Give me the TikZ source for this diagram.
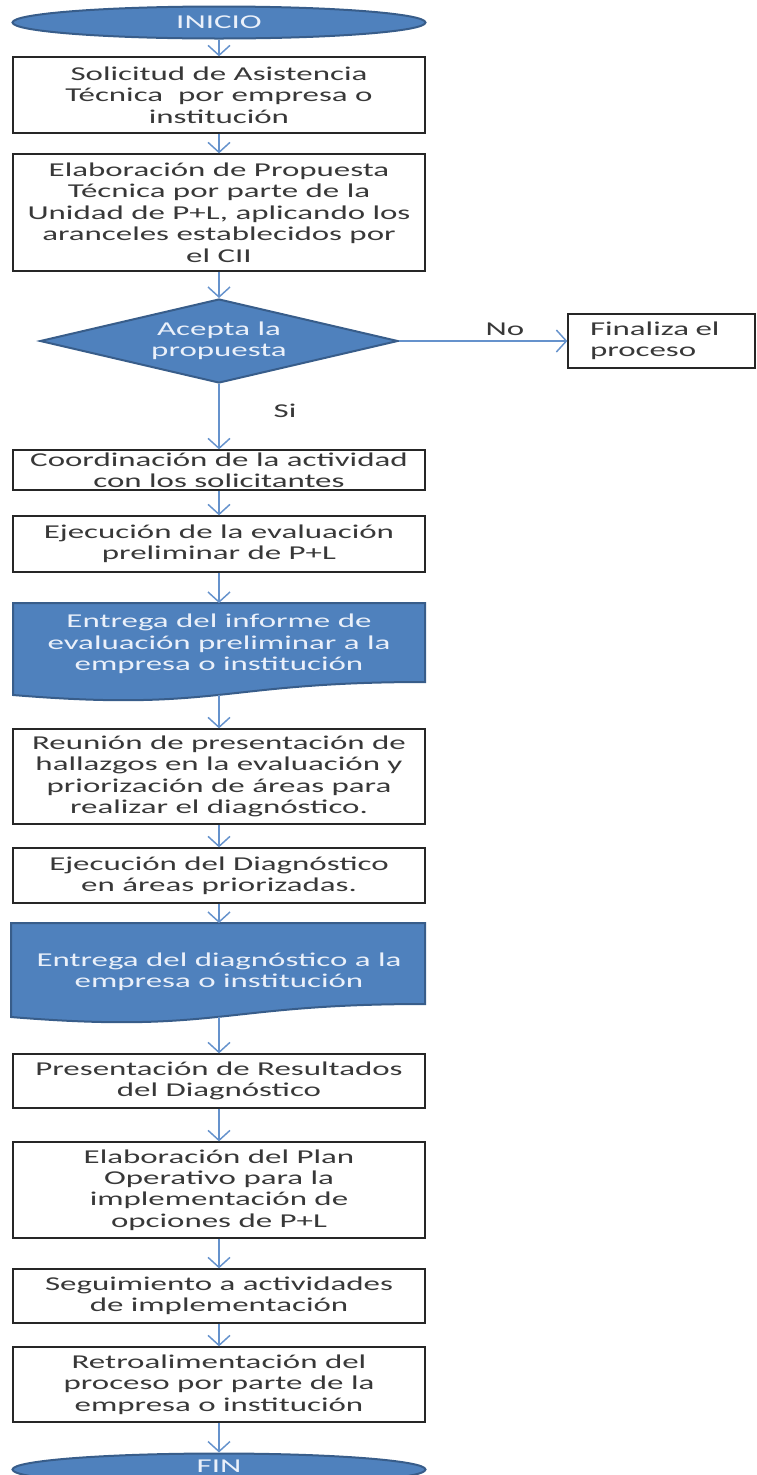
\documentclass[tikz,border=0pt]{standalone}
\usepackage{fontspec}
\setmainfont{Carlito}[FakeStretch=1.68]
\usetikzlibrary{shapes.geometric,arrows.meta}
\newlength{\px}\setlength{\px}{0.75pt}
\definecolor{flowblue}{HTML}{4F81BD}
\definecolor{flowedge}{HTML}{385D8A}
\definecolor{linkblue}{HTML}{6592CC}
\definecolor{boxtext}{HTML}{383838}
\definecolor{lighttext}{HTML}{EAF0FA}

\begin{document}
\begin{tikzpicture}[x=0.75pt,y=-0.75pt,
  every node/.style={font=\fontsize{14.7}{16.1}\selectfont},
  stepbox/.style={draw=black!85, line width=1pt, fill=white, text=boxtext,
    align=center, inner sep=0pt, minimum width=412\px},
  terminal/.style={ellipse, draw=flowedge, line width=1.5pt, fill=flowblue,
    text=lighttext, minimum width=413\px, minimum height=32\px, inner sep=0pt},
  decision/.style={diamond, draw=flowedge, line width=1.5pt, fill=flowblue,
    text=lighttext, align=center, shape aspect=4.26, minimum width=358\px,
    minimum height=84\px, inner sep=0pt},
  document/.style={draw=flowedge, line width=1.5pt, fill=flowblue},
  doctext/.style={text=lighttext, align=center, inner sep=0pt},
  link/.style={draw=linkblue, line width=1.1pt,
    -{Straight Barb[length=7.5pt, width=16.5pt, line width=1.1pt]}},
  tag/.style={text=boxtext, inner sep=0pt}
]
\useasboundingbox (0,0) rectangle (757,1475);

% main column
\node[terminal] (start) at (219,22.5) {INICIO};
\node[stepbox, minimum height=76\px] (s1) at (219,95)
  {Solicitud de Asistencia\\Técnica\ \ por empresa o\\institución};
\node[stepbox, minimum height=117\px] (s2) at (219,212.5)
  {Elaboración de Propuesta\\Técnica por parte de la\\Unidad de P+L, aplicando los\\aranceles establecidos por\\el CII};
\node[decision] (q) at (219,341) {Acepta la\\propuesta};
\node[stepbox, minimum width=0pt, minimum height=54\px, align=left,
  text width=143\px, inner xsep=22\px] (end) at (661.5,341) {Finaliza el\\proceso};
\node[stepbox, minimum height=40\px] (s3) at (219,470)
  {Coordinación de la actividad\\con los solicitantes};
\node[stepbox, minimum height=56\px] (s4) at (219,544)
  {Ejecución de la evaluación\\preliminar de P+L};

% first document shape
\draw[document] (13,603) -- (425,603) -- (425,682)
  .. controls (219,682) and (219,712) .. (13,695) -- cycle;
\node[doctext] (d1) at (219,644)
  {Entrega del informe de\\evaluación preliminar a la\\empresa o institución};
\coordinate (d1top) at (219,603);
\coordinate (d1bot) at (219,695);

\node[stepbox, minimum height=95\px] (s5) at (219,776.5)
  {Reunión de presentación de\\hallazgos en la evaluación y\\priorización de áreas para\\realizar el diagnóstico.};
\node[stepbox, minimum height=55\px] (s6) at (219,875.5)
  {Ejecución del Diagnóstico\\en áreas priorizadas.};

% second document shape
\draw[document] (11,923) -- (425,923) -- (425,1004)
  .. controls (218,1004) and (218,1034) .. (11,1017) -- cycle;
\node[doctext] (d2) at (219,972)
  {Entrega del diagnóstico a la\\empresa o institución};
\coordinate (d2top) at (219,923);
\coordinate (d2bot) at (219,1017);

\node[stepbox, minimum height=54\px] (s7) at (219,1081)
  {Presentación de Resultados\\del Diagnóstico};
\node[stepbox, minimum height=96\px] (s8) at (219,1190)
  {Elaboración del Plan\\Operativo para la\\implementación de\\opciones de P+L};
\node[stepbox, minimum height=54\px] (s9) at (219,1296)
  {Seguimiento a actividades\\de implementación};
\node[stepbox, minimum height=75\px] (s10) at (219,1384.5)
  {Retroalimentación del\\proceso por parte de la\\empresa o institución};
% the end terminal runs past the lower edge; its label sits a little high
\node[terminal, text height=10pt, text depth=4.8pt] (stop) at (219,1469.5) {FIN};

% branch labels
\node[tag] (no) at (505,329) {No};
\node[tag] (si) at (285,411) {Si};

% connectors
\draw[link] (start) -- (s1);
\draw[link] (s1) -- (s2);
\draw[link] (s2) -- (q);
\draw[link] (q) -- (end);
\draw[link] (q) -- (s3);
\draw[link] (s3) -- (s4);
\draw[link] (s4) -- (d1top);
\draw[link] (d1bot) -- (s5);
\draw[link] (s5) -- (s6);
\draw[link] (s6) -- (d2top);
\draw[link] (d2bot) -- (s7);
\draw[link] (s7) -- (s8);
\draw[link] (s8) -- (s9);
\draw[link] (s9) -- (s10);
\draw[link] (s10) -- (stop);
\end{tikzpicture}
\end{document}
